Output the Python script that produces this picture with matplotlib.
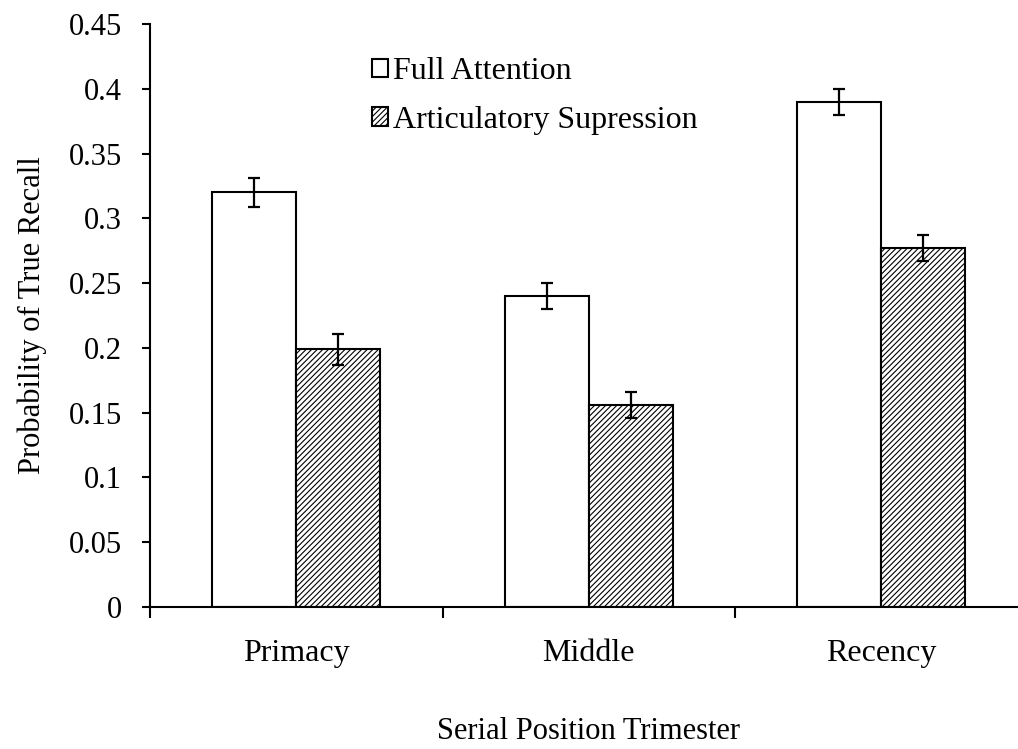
import numpy as np
import matplotlib
matplotlib.use('Agg')
import matplotlib.pyplot as plt

# data
categories = ['Primacy', 'Middle', 'Recency']
full_attention = [0.320, 0.240, 0.390]
full_err = [0.011, 0.010, 0.010]
artic_supp = [0.199, 0.156, 0.277]
artic_err = [0.012, 0.010, 0.010]

plt.rcParams['font.family'] = ['Liberation Serif', 'DejaVu Serif']
plt.rcParams['hatch.linewidth'] = 0.8

fig = plt.figure(figsize=(10.18, 7.49), dpi=100)
ax = fig.add_axes([150 / 1018, 1 - 607 / 749, 877.5 / 1018, 583 / 749])

x = np.arange(len(categories))
w = 0.288
ekw = dict(ecolor='black', elinewidth=1.6, capsize=4.5, capthick=1.6)
ax.bar(x - w / 2, full_attention, w, color='white', edgecolor='black', linewidth=1.5,
       yerr=full_err, error_kw=ekw, label='Full Attention')
ax.bar(x + w / 2, artic_supp, w, color='white', edgecolor='black', linewidth=1.5, hatch='//////',
       yerr=artic_err, error_kw=ekw, label='Articulatory Supression')

ax.set_xlim(-0.5, 2.5)
ax.set_ylim(0, 0.45)
ax.set_yticks(np.arange(0, 0.451, 0.05))
ax.set_yticklabels(['0', '0.05', '0.1', '0.15', '0.2', '0.25', '0.3', '0.35', '0.4', '0.45'])
ax.set_xticks(x)
ax.set_xticklabels(categories)
ax.set_xticks([-0.5, 0.5, 1.5, 2.5], minor=True)
ax.tick_params(axis='x', which='major', length=0, pad=23, labelsize=23)
ax.tick_params(axis='x', which='minor', length=8, width=1.5, direction='out')
ax.tick_params(axis='y', length=6, width=1.5, direction='out', labelsize=22, pad=14)

for s in ['top', 'right']:
    ax.spines[s].set_visible(False)
ax.spines['left'].set_linewidth(1.5)
ax.spines['bottom'].set_linewidth(1.5)

ax.set_ylabel('Probability of True Recall', fontsize=22, labelpad=16)
ax.set_xlabel('Serial Position Trimester', fontsize=22, labelpad=35)

ax.legend(loc='upper left', bbox_to_anchor=(372 / 1018, 1 - 57 / 749), bbox_transform=fig.transFigure,
          frameon=False, fontsize=23, borderaxespad=0, borderpad=0,
          handlelength=0.5, handleheight=0.5, handletextpad=0.15, labelspacing=0.62)

fig.savefig('out.png', dpi=100)
